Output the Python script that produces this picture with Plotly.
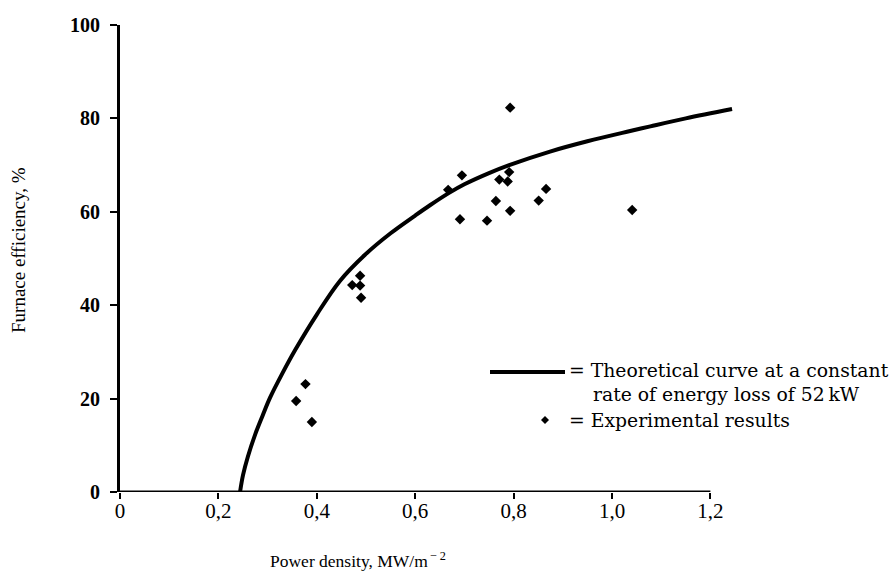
import plotly.graph_objects as go

# Theoretical curve
curve_x = [0.244, 0.25, 0.26, 0.275, 0.29, 0.305, 0.33, 0.356, 0.40, 0.447, 0.498, 0.55, 0.60,
           0.63, 0.668, 0.70, 0.75, 0.791, 0.874, 0.95, 1.037, 1.078, 1.15, 1.244]
curve_y = [0.0, 3.6, 7.6, 12.4, 16.4, 20.2, 25.4, 30.4, 38.0, 45.2, 50.8, 55.4, 59.2,
           61.4, 64.0, 65.9, 68.3, 70.0, 72.9, 75.1, 77.3, 78.3, 80.0, 82.0]

# Experimental results
exp_x = [0.358, 0.377, 0.390, 0.488, 0.472, 0.488, 0.490, 0.695, 0.667, 0.791, 0.771, 0.788,
         0.866, 0.764, 0.851, 0.793, 0.691, 0.746, 0.793, 1.041]
exp_y = [19.5, 23.1, 15.0, 46.3, 44.3, 44.2, 41.6, 67.8, 64.7, 68.5, 66.9, 66.5,
         64.9, 62.3, 62.4, 60.2, 58.4, 58.1, 82.3, 60.4]

x_ticks = [0, 0.2, 0.4, 0.6, 0.8, 1.0, 1.2]
x_tick_labels = ["0", "0,2", "0,4", "0,6", "0,8", "1,0", "1,2"]
y_ticks = [0, 20, 40, 60, 80, 100]
y_tick_labels = ["<b>0</b>", "<b>20</b>", "<b>40</b>", "<b>60</b>", "<b>80</b>", "<b>100</b>"]

SERIF = "Liberation Serif"
WIDE = "DejaVu Serif"

fig = go.Figure()
fig.add_trace(go.Scatter(x=curve_x, y=curve_y, mode="lines",
                         line=dict(color="black", width=4, shape="spline", smoothing=1.0),
                         showlegend=False, hoverinfo="skip", cliponaxis=False))
fig.add_trace(go.Scatter(x=exp_x, y=exp_y, mode="markers",
                         marker=dict(symbol="diamond", size=8, color="black"),
                         showlegend=False, cliponaxis=False))

L, R, T, B = 120, 158, 25, 90
W, H = 893, 582
pw, ph = W - L - R, H - T - B

def px(xp):
    return (xp - L) / pw

def py(yp):
    return (H - B - yp) / ph

shapes = [
    dict(type="line", xref="x", yref="y", x0=0, x1=x_ticks[-1], y0=0, y1=0,
         line=dict(color="black", width=3)),
    dict(type="line", xref="paper", yref="paper", x0=px(490), x1=px(565), y0=py(372), y1=py(372),
         line=dict(color="black", width=4)),
]
cx, cy, dx, dy = px(545), py(420), 4 / pw, 4 / ph
shapes.append(dict(type="path", xref="paper", yref="paper",
                   path=f"M {cx-dx} {cy} L {cx} {cy+dy} L {cx+dx} {cy} L {cx} {cy-dy} Z",
                   fillcolor="black", line=dict(color="black", width=0)))

leg_font = dict(family=WIDE, size=18.8, color="black")
annotations = [
    dict(text="= Theoretical curve at a constant", xref="paper", yref="paper", x=px(567), y=py(370),
         xanchor="left", yanchor="middle", showarrow=False, font=leg_font),
    dict(text="rate of energy loss of 52\u2009kW", xref="paper", yref="paper", x=px(591), y=py(394),
         xanchor="left", yanchor="middle", showarrow=False, font=leg_font),
    dict(text="= Experimental results", xref="paper", yref="paper", x=px(567), y=py(420),
         xanchor="left", yanchor="middle", showarrow=False, font=leg_font),
    dict(text="Power density, MW/m<sup>\u2009\u2212\u20092</sup>", xref="paper", yref="paper", x=px(358), y=py(560),
         xanchor="center", yanchor="middle", showarrow=False, font=dict(family=SERIF, size=17.5, color="black")),
    dict(text="Furnace efficiency, %", xref="paper", yref="paper", x=px(18), y=py(250), textangle=-90,
         xanchor="center", yanchor="middle", showarrow=False, font=dict(family=SERIF, size=19, color="black")),
]

fig.update_layout(
    width=W, height=H,
    margin=dict(l=L, r=R, t=T, b=B, autoexpand=False),
    paper_bgcolor="white", plot_bgcolor="white",
    shapes=shapes, annotations=annotations,
    xaxis=dict(range=[0, 1.25], tickvals=x_ticks, ticktext=x_tick_labels,
               showgrid=False, zeroline=False, showline=False,
               ticks="outside", ticklen=6, tickwidth=2, tickcolor="black",
               ticklabelstandoff=-6,
               tickfont=dict(family=SERIF, size=21, color="black")),
    yaxis=dict(range=[0, 100], tickvals=y_ticks, ticktext=y_tick_labels,
               showgrid=False, zeroline=False, showline=True, linecolor="black", linewidth=3,
               ticks="outside", ticklen=7, tickwidth=2, tickcolor="black",
               ticklabelstandoff=6,
               tickfont=dict(family=SERIF, size=20, color="black")),
)

fig.write_html("out.html", config={"displayModeBar": False},
               post_script="document.body.style.margin='0px';document.body.style.padding='0px';")
